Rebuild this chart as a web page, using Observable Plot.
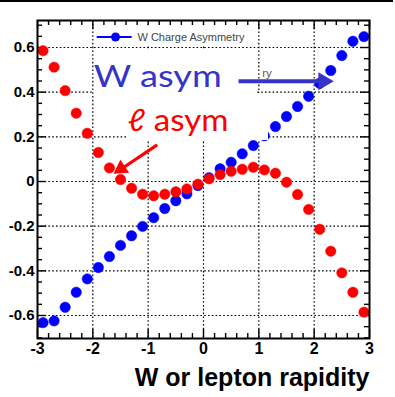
<!DOCTYPE html>
<html><head><meta charset="utf-8">
<script src="https://cdn.jsdelivr.net/npm/d3@7"></script>
<script src="https://cdn.jsdelivr.net/npm/@observablehq/plot@0.6"></script>
<style>
html,body{margin:0;padding:0;background:#fff;}
#wrap{position:relative;width:395px;height:397px;overflow:hidden;}
#chart{position:absolute;left:0;top:0;}
#topline{position:absolute;left:0;top:0;width:393px;height:2px;background:#000;}
</style></head><body>
<div id="wrap"><div id="chart"></div><div id="topline"></div></div>
<script>
// ---- data ----
const rapidity = [-2.9,-2.7,-2.5,-2.3,-2.1,-1.9,-1.7,-1.5,-1.3,-1.1,-0.9,-0.7,-0.5,-0.3,-0.1,0.1,0.3,0.5,0.7,0.9,1.1,1.3,1.5,1.7,1.9,2.1,2.3,2.5,2.7,2.9];
const wAsym = [-0.632,-0.624,-0.563,-0.496,-0.436,-0.385,-0.336,-0.286,-0.243,-0.201,-0.162,-0.121,-0.086,-0.055,-0.018,0.017,0.057,0.086,0.124,0.161,0.205,0.246,0.291,0.336,0.382,0.44,0.497,0.564,0.628,0.649];
const lepAsym = [0.586,0.512,0.407,0.306,0.216,0.130,0.061,0.009,-0.030,-0.057,-0.064,-0.057,-0.046,-0.033,-0.012,0.012,0.031,0.046,0.055,0.064,0.052,0.037,-0.003,-0.058,-0.125,-0.214,-0.312,-0.409,-0.496,-0.585];
const xTicks = [-3,-2,-1,0,1,2,3];
const yTicks = [-0.6,-0.4,-0.2,0,0.2,0.4,0.6];
const xGrid = [-2,-1,0,1,2];
const xLabel = "W or lepton rapidity";
const legendLabel = "W Charge Asymmetry";
const wLabel = "W asym";
const lLabel = "ℓ asym";
const fragment = "ry";

// ---- layout ----
const W = 395, H = 397;
const mL = 37, mR = 26, mT = 20, mB = 59;
const xDom = [-3, 3], yDom = [-0.703, 0.721];
const pxX = (W - mL - mR) / (xDom[1] - xDom[0]);
const pxY = (H - mT - mB) / (yDom[1] - yDom[0]);
const majPx = 9, minPx = 5;

const rows = rapidity.map((x, i) => ({x, w: wAsym[i], l: lepAsym[i]}));
const xMinor = d3.range(-15, 16).filter(i => i % 5 !== 0).map(i => i / 5);
const yMinor = d3.range(-14, 15).filter(i => i % 4 !== 0).map(i => i / 20);

// annotation placements (data units)
const masks = [
  {x1: -1.97, x2: 0.958, y1: 0.604, y2: 0.698},
  {x1: -1.97, x2: 0.958, y1: 0.394, y2: 0.591},
  {x1: -1.374, x2: 1.175, y1: 0.1835, y2: 0.394}
];
const legendPos = {x1: -1.921, x2: -1.289, xm: -1.59, xt: -1.193, y: 0.647};
const wPos = {x: -1.983, y: 0.421};
const lPos = {x: -1.374, y: 0.228};
const fragPos = {x: 1.06, y: 0.485};
const blueArrow = {x1: 0.633, y1: 0.449, x2: 2.078, y2: 0.449, hx: 2.169, hy: 0.449, rot: 90};
const redArrow = {x1: -0.837, y1: 0.164, x2: -1.446, y2: 0.0627, hx: -1.491, hy: 0.0568, rot: 236};

const BLUE = "#0000ff", RED = "#ff0000", ANN_BLUE = "#3434c8";
const gridStyle = {stroke: "#000", strokeWidth: 1.2, strokeDasharray: "1.6,2.2"};
const tickStyle = {stroke: "#000", strokeWidth: 1.4};

const plot = Plot.plot({
  width: W, height: H,
  marginLeft: mL, marginRight: mR, marginTop: mT, marginBottom: mB,
  style: {fontFamily: "Liberation Sans, Arial, sans-serif", background: "white", overflow: "visible"},
  x: {domain: xDom},
  y: {domain: yDom},
  marks: [
    Plot.ruleX(xGrid, {x: d => d, ...gridStyle}),
    Plot.ruleY(yTicks, {y: d => d, ...gridStyle}),
    // inward ticks
    Plot.ruleX(xTicks, {x: d => d, y1: yDom[0], y2: yDom[0] + majPx / pxY, ...tickStyle}),
    Plot.ruleX(xMinor, {x: d => d, y1: yDom[0], y2: yDom[0] + minPx / pxY, ...tickStyle}),
    Plot.ruleX(xTicks, {x: d => d, y1: yDom[1], y2: yDom[1] - majPx / pxY, ...tickStyle}),
    Plot.ruleX(xMinor, {x: d => d, y1: yDom[1], y2: yDom[1] - minPx / pxY, ...tickStyle}),
    Plot.ruleY(yTicks, {y: d => d, x1: xDom[0], x2: xDom[0] + majPx / pxX, ...tickStyle}),
    Plot.ruleY(yMinor, {y: d => d, x1: xDom[0], x2: xDom[0] + minPx / pxX, ...tickStyle}),
    Plot.ruleY(yTicks, {y: d => d, x1: xDom[1], x2: xDom[1] - majPx / pxX, ...tickStyle}),
    Plot.ruleY(yMinor, {y: d => d, x1: xDom[1], x2: xDom[1] - minPx / pxX, ...tickStyle}),
    // data
    Plot.dot(rows, {x: "x", y: "w", r: 5.2, fill: BLUE, stroke: BLUE, strokeWidth: 0.5}),
    Plot.dot(rows, {x: "x", y: "l", r: 5.2, fill: RED, stroke: RED, strokeWidth: 0.5}),
    // white boxes under annotations
    Plot.rect(masks, {x1: "x1", x2: "x2", y1: "y1", y2: "y2", fill: "white"}),
    // legend
    Plot.ruleY([legendPos.y], {x1: legendPos.x1, x2: legendPos.x2, stroke: BLUE, strokeWidth: 2}),
    Plot.dot([legendPos.y], {x: legendPos.xm, y: d => d, r: 4.5, fill: BLUE}),
    Plot.text([legendLabel], {x: legendPos.xt, y: legendPos.y, text: d => d, textAnchor: "start", fontSize: 11, fill: "#444"}),
    Plot.text([fragment], {x: fragPos.x, y: fragPos.y, text: d => d, textAnchor: "start", fontSize: 11.5, fill: "#555"}),
    // annotation texts
    Plot.text([wLabel], {x: wPos.x, y: wPos.y, text: d => d, textAnchor: "start", lineAnchor: "bottom", fontSize: 31, fontFamily: "Lato, Open Sans, sans-serif", fill: ANN_BLUE, className: "wlab"}),
    Plot.text([lLabel], {x: lPos.x, y: lPos.y, text: d => d, textAnchor: "start", lineAnchor: "bottom", fontSize: 31, fontFamily: "Lato, Open Sans, DejaVu Sans, sans-serif", fill: RED, className: "llab"}),
    // arrows
    Plot.link([blueArrow], {x1: "x1", y1: "y1", x2: "x2", y2: "y2", stroke: ANN_BLUE, strokeWidth: 4}),
    Plot.dot([blueArrow], {x: "hx", y: "hy", symbol: "triangle", r: 6.6, rotate: "rot", fill: ANN_BLUE}),
    Plot.link([redArrow], {x1: "x1", y1: "y1", x2: "x2", y2: "y2", stroke: RED, strokeWidth: 3.2}),
    Plot.dot([redArrow], {x: "hx", y: "hy", symbol: "triangle", r: 5.8, rotate: "rot", fill: RED}),
    // frame
    Plot.frame({stroke: "#000", strokeWidth: 2}),
    // axes labels
    Plot.axisX({ticks: xTicks, tickSize: 0, tickPadding: 4, tickFormat: d => String(d), fontSize: 16, fontWeight: "bold", label: null}),
    Plot.axisY({ticks: yTicks, tickSize: 0, tickPadding: 3, tickFormat: d => String(d), fontSize: 15, fontWeight: "bold", label: null}),
    Plot.text([xLabel], {frameAnchor: "bottom-right", dy: 47, text: d => d, textAnchor: "end", lineAnchor: "bottom", fontSize: 25, fontWeight: "bold"})
  ]
});
document.getElementById("chart").appendChild(plot);
d3.select(plot).selectAll(".wlab text").attr("textLength", 128).attr("lengthAdjust", "spacingAndGlyphs");
d3.select(plot).selectAll(".llab text").attr("textLength", 101).attr("lengthAdjust", "spacingAndGlyphs");
</script>
</body></html>
